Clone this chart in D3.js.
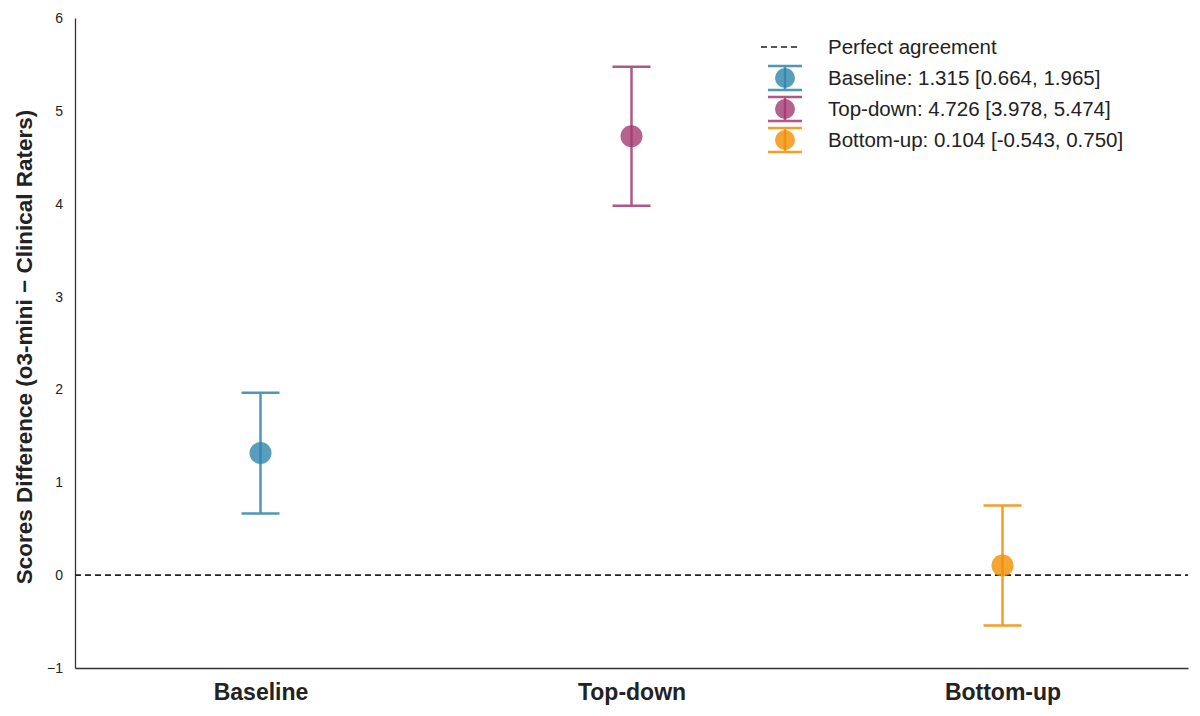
<!DOCTYPE html>
<html><head><meta charset="utf-8">
<script src="https://cdn.jsdelivr.net/npm/d3@7"></script>
<style>body{margin:0;background:#fff}svg text{font-family:"Liberation Sans",Arial,sans-serif}</style>
</head><body><svg id="c" width="1200" height="716"></svg>
<script>
const categories=["Baseline","Top-down","Bottom-up"];
const means=[1.315,4.726,0.104];
const lows=[0.664,3.978,-0.543];
const highs=[1.965,5.474,0.750];
const colors=["#2E86AB","#A23B72","#F18F01"];
const yTicks=[-1,0,1,2,3,4,5,6];

const svg=d3.select("#c");
const L=75,R=1188,T=18,B=668;
const x=d3.scalePoint().domain(categories).range([L,R]).padding(0.5);
const y=d3.scaleLinear().domain([-1,6]).range([B,T]);

const ya=svg.append("g").attr("transform",`translate(${L},0)`).call(d3.axisLeft(y).tickValues(yTicks).tickSize(0).tickPadding(12).tickFormat(d=>d<0?"\u2212"+(-d):d));
ya.select(".domain").attr("stroke","#333").attr("stroke-width",1.3);
ya.selectAll("text").style("font-size","14px").attr("fill","#222");
const xa=svg.append("g").attr("transform",`translate(0,${B})`).call(d3.axisBottom(x).tickSize(0).tickPadding(12));
xa.select(".domain").attr("stroke","#333").attr("stroke-width",1.3);
xa.selectAll("text").style("font-size","23px").attr("font-weight","bold").attr("fill","#222").attr("dy","0.85em");

svg.append("text").attr("transform",`translate(32,${(T+B)/2+4}) rotate(-90)`).attr("text-anchor","middle")
 .style("font-size","22.5px").attr("font-weight","bold").attr("fill","#222").text("Scores Difference (o3-mini \u2212 Clinical Raters)");

svg.append("line").attr("x1",L).attr("x2",R).attr("y1",y(0)).attr("y2",y(0)).attr("stroke","#222").attr("stroke-width",1.6).attr("stroke-dasharray","6,4");

const g=svg.append("g");
categories.forEach((c,i)=>{
  const cx=x(c),col=colors[i];
  const e=g.append("g").attr("stroke",col).attr("stroke-width",2.5).attr("opacity",0.85);
  e.append("line").attr("x1",cx).attr("x2",cx).attr("y1",y(lows[i])).attr("y2",y(highs[i]));
  [lows[i],highs[i]].forEach(v=>e.append("line").attr("x1",cx-19).attr("x2",cx+19).attr("y1",y(v)).attr("y2",y(v)));
  g.append("circle").attr("cx",cx).attr("cy",y(means[i])).attr("r",11).attr("fill",col).attr("fill-opacity",0.8);
});

const lg=svg.append("g");
const lx=785,ly=47,dy=31;
lg.append("line").attr("x1",lx-24).attr("x2",lx+16).attr("y1",ly).attr("y2",ly).attr("stroke","#222").attr("stroke-width",1.6).attr("stroke-dasharray","6,4");
lg.append("text").attr("x",828).attr("y",ly).attr("dy","0.35em").style("font-size","20.5px").attr("fill","#222").text("Perfect agreement");
categories.forEach((c,i)=>{
  const yy=ly+dy*(i+1),col=colors[i];
  const e=lg.append("g").attr("stroke",col).attr("stroke-width",2.5).attr("opacity",0.85);
  e.append("line").attr("x1",lx).attr("x2",lx).attr("y1",yy-12).attr("y2",yy+12);
  e.append("line").attr("x1",lx-17).attr("x2",lx+17).attr("y1",yy-12).attr("y2",yy-12);
  e.append("line").attr("x1",lx-17).attr("x2",lx+17).attr("y1",yy+12).attr("y2",yy+12);
  lg.append("circle").attr("cx",lx).attr("cy",yy).attr("r",10).attr("fill",col).attr("fill-opacity",0.8);
  lg.append("text").attr("x",828).attr("y",yy).attr("dy","0.35em").style("font-size","20.5px").attr("fill","#222")
    .text(`${c}: ${means[i].toFixed(3)} [${lows[i].toFixed(3)}, ${highs[i].toFixed(3)}]`);
});
</script></body></html>
